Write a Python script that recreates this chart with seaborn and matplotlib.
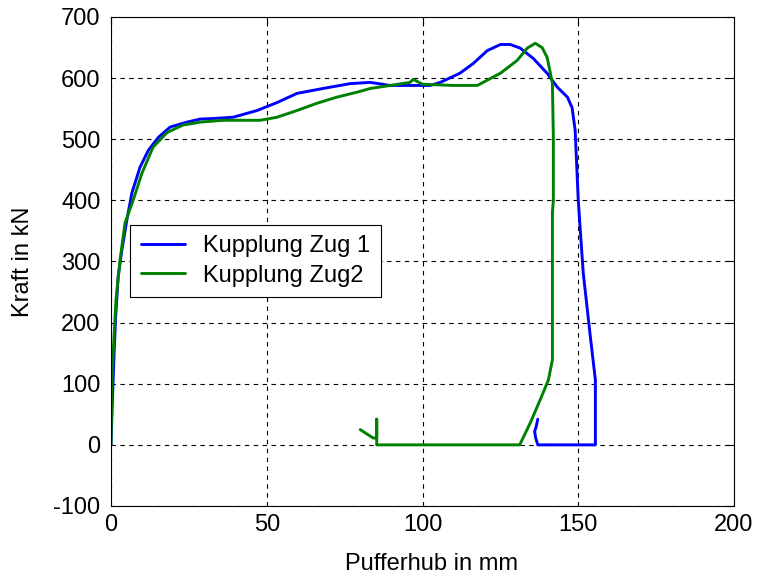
import matplotlib
matplotlib.use("Agg")
import matplotlib.pyplot as plt
import seaborn as sns
import pandas as pd

# Data
zug1_x = [0, 0.5, 1, 1.5, 2.3, 3.5, 5.1, 6.7, 9.3, 12, 15.2, 19, 24.4, 28.6, 33, 39.2,
          46.9, 53.3, 59.7, 68, 76.8, 83.2, 89.6, 95, 102.5, 105.7, 112, 116.3, 120.8,
          125, 128.2, 131.4, 135.6, 140, 143.3, 146.5, 148, 149, 150, 151.6, 153.9,
          155.5, 155.5, 137, 136.3, 136, 136.5, 137]
zug1_y = [0, 80, 150, 210, 275, 319, 368, 412, 454, 482, 503, 520, 528, 533, 534, 536,
          547, 560, 575, 583, 591, 593, 588, 588, 588, 593, 608, 624, 645,
          655, 655, 649, 632, 608, 585, 569, 552, 515, 400, 281, 176,
          106, 0, 0, 12, 22, 30, 42]

zug2_x = [0, 0.3, 0.7, 1.6, 2.9, 4.5, 7.1, 9.9, 13.5, 18, 23, 28.6, 36, 47.9, 53.3,
          59.7, 66.2, 72.6, 79, 83.2, 89.6, 96, 97, 100, 110, 117.6, 125, 130.4,
          133.6, 136.2, 138.4, 140, 141.7, 142, 142, 141.7, 141.7, 140.4, 137.8,
          134.6, 131.2, 85.3, 85.3, 85.3, 84.2, 80]
zug2_y = [0, 100, 150, 237, 302, 363, 400, 444, 487, 511, 523, 528, 531, 531, 536,
          547, 559, 569, 577, 583, 588, 593, 598, 590, 588, 588, 608, 629,
          649, 657, 650, 634, 592, 503, 400, 380, 139, 106, 74,
          36, 0, 0, 42, 12, 11, 25]

labels = ["Kupplung Zug 1", "Kupplung Zug2"]
x_ticks = [0, 50, 100, 150, 200]
y_ticks = [-100, 0, 100, 200, 300, 400, 500, 600, 700]

sns.set_style("white")
plt.rcParams["font.family"] = ["Liberation Sans", "DejaVu Sans"]
plt.rcParams["axes.unicode_minus"] = False
plt.rcParams["text.color"] = "black"
plt.rcParams["axes.labelcolor"] = "black"

FS = 17

fig = plt.figure(figsize=(7.67, 5.78), dpi=100)
ax = fig.add_axes([0.1447, 0.1246, 0.8123, 0.846])

d1 = pd.DataFrame({"x": zug1_x, "y": zug1_y})
d2 = pd.DataFrame({"x": zug2_x, "y": zug2_y})
sns.lineplot(data=d1, x="x", y="y", sort=False, estimator=None, color="#0000ff",
             linewidth=2.1, label=labels[0], ax=ax)
sns.lineplot(data=d2, x="x", y="y", sort=False, estimator=None, color="#008000",
             linewidth=2.1, label=labels[1], ax=ax)

ax.set_xlim(0, 200)
ax.set_ylim(-100, 700)
ax.set_xticks(x_ticks)
ax.set_yticks(y_ticks)
ax.set_xlabel("Pufferhub in mm", fontsize=FS)
ax.set_ylabel("Kraft in kN", fontsize=FS)
ax.xaxis.set_label_coords(0.514, -0.097)
ax.yaxis.set_label_coords(-0.124, 0.5)
ax.tick_params(direction="in", top=True, right=True, length=5, width=0.8,
               labelsize=FS, colors="black")
ax.tick_params(axis="x", pad=6.0)
ax.tick_params(axis="y", pad=7.5)
ax.grid(True, color="black", linestyle=(0, (4, 4)), linewidth=0.8)
for s in ax.spines.values():
    s.set_color("black")
    s.set_linewidth(0.8)

leg = ax.legend(loc="upper left", bbox_to_anchor=(0.0305, 0.575), fontsize=FS,
                frameon=True, fancybox=False, framealpha=1, edgecolor="black",
                borderpad=0.45, labelspacing=0.3, handlelength=1.9,
                handletextpad=0.75, borderaxespad=0)
leg.get_frame().set_linewidth(0.8)
for t in leg.get_texts():
    t.set_color("black")

fig.savefig("out.png", dpi=100)
